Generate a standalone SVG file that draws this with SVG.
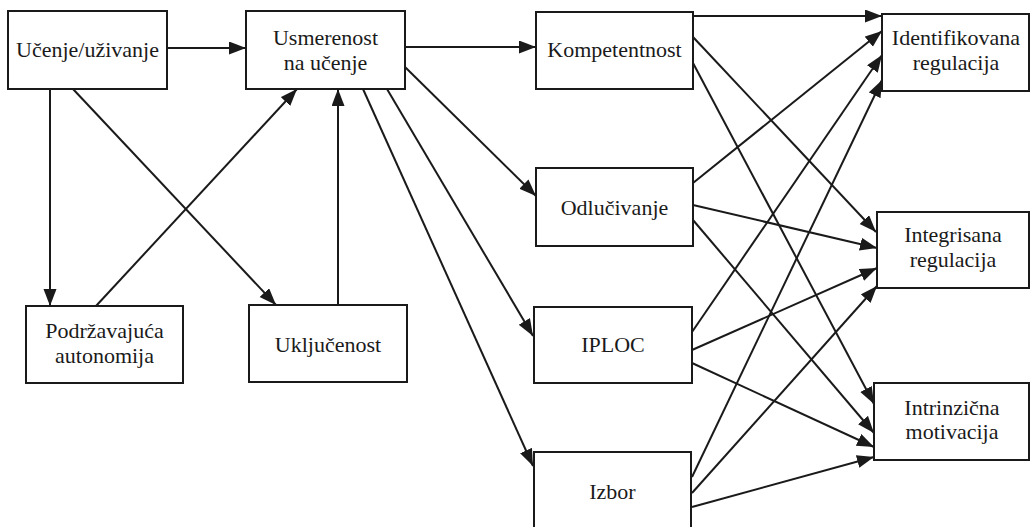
<svg xmlns="http://www.w3.org/2000/svg" width="1031" height="527" viewBox="0 0 1031 527">
<style>
.box{fill:#fff;stroke:#1a1a1a;stroke-width:2}
.lbl{font-family:'Liberation Serif','Times New Roman','DejaVu Serif',serif;font-size:22px;fill:#1a1a1a;text-anchor:middle}
.edge{stroke:#1a1a1a;stroke-width:2;fill:none;marker-end:url(#ah)}
</style>
<defs>
<marker id="ah" markerUnits="userSpaceOnUse" markerWidth="18" markerHeight="14" refX="17" refY="6.5" orient="auto">
<path d="M0,0 L17,6.5 L0,13 z" fill="#1a1a1a"/>
</marker>
</defs>
<rect width="1031" height="527" fill="#fff"/>
<g id="connectors">
<line class="edge" x1="167" y1="48" x2="246" y2="48"/>
<line class="edge" x1="50" y1="89" x2="50" y2="306"/>
<line class="edge" x1="73" y1="89" x2="276" y2="305"/>
<line class="edge" x1="96" y1="306" x2="297" y2="89"/>
<line class="edge" x1="338" y1="305" x2="338" y2="89"/>
<line class="edge" x1="405" y1="47" x2="536" y2="47"/>
<line class="edge" x1="405" y1="67" x2="536" y2="196"/>
<line class="edge" x1="387" y1="89" x2="533" y2="336"/>
<line class="edge" x1="363" y1="89" x2="533" y2="466"/>
<line class="edge" x1="693" y1="16" x2="882" y2="16"/>
<line class="edge" x1="693" y1="37" x2="876" y2="232"/>
<line class="edge" x1="693" y1="63" x2="874" y2="404"/>
<line class="edge" x1="693" y1="183" x2="882" y2="31"/>
<line class="edge" x1="693" y1="205" x2="877" y2="248"/>
<line class="edge" x1="693" y1="220" x2="874" y2="433"/>
<line class="edge" x1="692" y1="332" x2="882" y2="55"/>
<line class="edge" x1="692" y1="350" x2="877" y2="268"/>
<line class="edge" x1="692" y1="363" x2="874" y2="447"/>
<line class="edge" x1="692" y1="477" x2="882" y2="80"/>
<line class="edge" x1="692" y1="493" x2="877" y2="286"/>
<line class="edge" x1="692" y1="507" x2="874" y2="457"/>
</g>
<g id="ucenje"><rect class="box" x="8" y="11" width="159" height="78"/><text class="lbl" x="87.5" y="57">Učenje/uživanje</text></g>
<g id="usmerenost"><rect class="box" x="246" y="11" width="159" height="78"/><text class="lbl" x="325.5" y="45">Usmerenost</text><text class="lbl" x="325.5" y="70">na učenje</text></g>
<g id="podrzavajuca"><rect class="box" x="26" y="306" width="157" height="77"/><text class="lbl" x="104.5" y="338">Podržavajuća</text><text class="lbl" x="104.5" y="363">autonomija</text></g>
<g id="ukljucenost"><rect class="box" x="249" y="305" width="158" height="77"/><text class="lbl" x="328" y="352">Uključenost</text></g>
<g id="kompetentnost"><rect class="box" x="536" y="12" width="157" height="77"/><text class="lbl" x="614.5" y="57">Kompetentnost</text></g>
<g id="odlucivanje"><rect class="box" x="536" y="168" width="157" height="78"/><text class="lbl" x="614.5" y="215">Odlučivanje</text></g>
<g id="iploc"><rect class="box" x="534" y="307" width="158" height="76"/><text class="lbl" x="613" y="352">IPLOC</text></g>
<g id="izbor"><rect class="box" x="534" y="452" width="157" height="80"/><text class="lbl" x="612.5" y="499">Izbor</text></g>
<g id="identifikovana"><rect class="box" x="882" y="14" width="147" height="77"/><text class="lbl" x="956" y="45">Identifikovana</text><text class="lbl" x="956" y="70">regulacija</text></g>
<g id="integrisana"><rect class="box" x="877" y="212" width="152" height="76"/><text class="lbl" x="953" y="242">Integrisana</text><text class="lbl" x="953" y="267">regulacija</text></g>
<g id="intrinzicna"><rect class="box" x="874" y="383" width="155" height="77"/><text class="lbl" x="952" y="415">Intrinzična</text><text class="lbl" x="952" y="439">motivacija</text></g>
</svg>
